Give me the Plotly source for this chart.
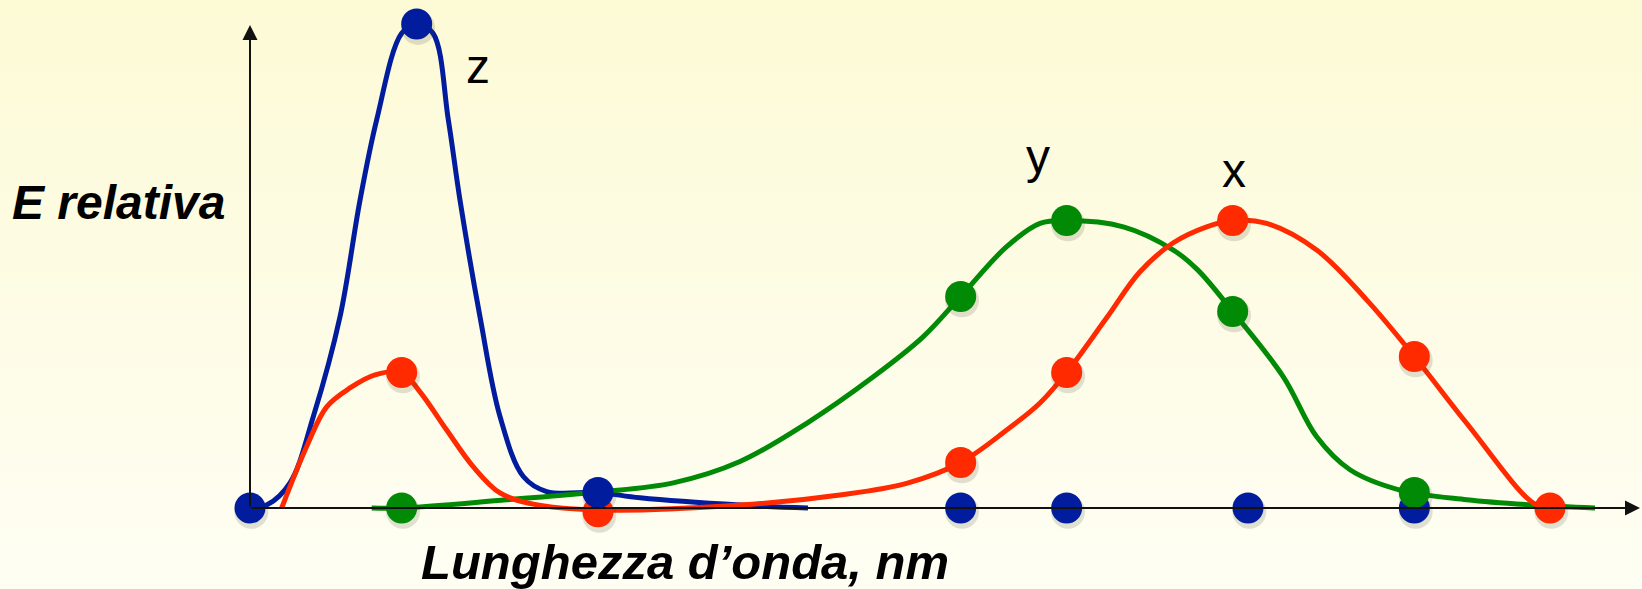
import plotly.graph_objects as go

# wavelength in nm, relative energy in %
z_nm = [380, 385, 392, 399, 407, 413, 418, 425.5, 430,
        434.9, 439.5, 443, 449, 455, 462, 469, 484.4, 497, 527, 547.4]
z_val = [0, 0.6, 5.2, 18.9, 39.5, 63.6, 80.2, 98.1, 100,
         98.1, 80.2, 63.6, 39.5, 18.9, 6.5, 3.4, 3.2, 2.1, 0.6, 0]

x_nm = [389.5, 397, 403, 410, 417.5, 425.5, 431, 439, 447, 455, 465, 484.4,
        527, 557, 577, 593.2, 607, 617, 625, 637, 647, 657, 667, 674.8,
        685, 700, 715, 729.3, 745, 765, 770]
x_val = [0, 12.7, 20.9, 24.8, 27.5, 28.0, 24.0, 16.1, 8.5, 3.1, 0.8, -0.4,
         0.6, 2.7, 5.1, 9.4, 16.1, 21.7, 28.0, 39.3, 48.8, 54.8, 58.1, 59.4,
         58.8, 53.3, 43.0, 31.3, 17.5, 1.0, 0]

y_nm = [416.5, 425.5, 457, 484.4, 507, 527, 547, 567, 582, 593.2, 607, 617,
        625, 642, 657, 664.3, 674.8, 690, 700, 710, 725, 745, 765, 783.5]
y_val = [0, 0, 1.7, 3.3, 5.2, 9.6, 17.5, 27.1, 35.4, 43.7, 54.0, 58.8,
         59.4, 58.1, 53.3, 49.2, 40.6, 27.1, 14.7, 7.9, 3.7, 1.7, 0.6, 0]

# sampled points (dots)
z_pts_nm = [380, 430, 484.4, 593.2, 625, 679.4, 729.3]
z_pts = [0, 100, 3.2, 0, 0, 0, 0]
x_pts_nm = [425.5, 484.4, 593.2, 625, 674.8, 729.3, 770]
x_pts = [28.0, -0.8, 9.4, 28.0, 59.4, 31.3, 0]
y_pts_nm = [425.5, 593.2, 625, 674.8, 729.3]
y_pts = [0, 43.7, 59.4, 40.6, 3.2]

BLUE = "#021c9e"
RED = "#ff2a00"
GREEN = "#008a05"

fig = go.Figure()

for nm, val, col in [(z_nm, z_val, BLUE), (y_nm, y_val, GREEN), (x_nm, x_val, RED)]:
    fig.add_trace(go.Scatter(x=nm, y=val, mode="lines",
                             line=dict(color=col, width=5, shape="spline", smoothing=1),
                             hoverinfo="skip", showlegend=False, cliponaxis=False))

# soft drop shadows under the dots
for nm, val in [(x_pts_nm, x_pts), (z_pts_nm, z_pts), (y_pts_nm, y_pts)]:
    fig.add_trace(go.Scatter(x=[v + 0.4 for v in nm], y=[v - 0.8 for v in val], mode="markers",
                             marker=dict(size=34, color="rgba(70,70,50,0.16)"),
                             hoverinfo="skip", showlegend=False, cliponaxis=False))

for nm, val, col in [(x_pts_nm, x_pts, RED), (z_pts_nm, z_pts, BLUE), (y_pts_nm, y_pts, GREEN)]:
    fig.add_trace(go.Scatter(x=nm, y=val, mode="markers",
                             marker=dict(size=31, color=col),
                             showlegend=False, cliponaxis=False))

# background gradient (light yellow at top fading to cream)
bands = 40
top = (253, 250, 214)
bot = (254, 254, 243)
shapes = []
for i in range(bands):
    t = i / (bands - 1)
    c = tuple(round(top[k] + (bot[k] - top[k]) * t) for k in range(3))
    shapes.append(dict(type="rect", xref="paper", yref="paper", layer="below",
                       x0=0, x1=1, y0=1 - (i + 1) / bands, y1=1 - i / bands + 0.001,
                       line=dict(width=0), fillcolor="rgb(%d,%d,%d)" % c))

lbl = dict(family="Liberation Sans, Arial, sans-serif", size=48, color="black")
annotations = [
    # axes with arrow heads
    dict(x=797, y=0, ax=380, ay=0, xref="x", yref="y", axref="x", ayref="y",
         text="", showarrow=True, arrowhead=2, arrowsize=1.5, arrowwidth=2, arrowcolor="#111"),
    dict(x=380, y=99.8, ax=380, ay=0, xref="x", yref="y", axref="x", ayref="y",
         text="", showarrow=True, arrowhead=2, arrowsize=1.5, arrowwidth=2, arrowcolor="#111"),
    dict(x=340.4, y=63.2, text="<b><i>E relativa</i></b>", showarrow=False, font=lbl),
    dict(x=510.5, y=-11.2, text="<b><i>Lunghezza d’onda, nm</i></b>", showarrow=False,
         font=dict(lbl, size=49)),
    dict(x=448.3, y=91.3, text="z", showarrow=False, font=lbl),
    dict(x=616.3, y=72.6, text="y", showarrow=False, font=lbl),
    dict(x=675.2, y=69.7, text="x", showarrow=False, font=lbl),
]

fig.update_layout(
    width=1642, height=589,
    margin=dict(l=0, r=0, t=0, b=0),
    paper_bgcolor="#fefef3", plot_bgcolor="rgba(0,0,0,0)",
    shapes=shapes, annotations=annotations,
    xaxis=dict(range=[305, 797.6], visible=False, fixedrange=True),
    yaxis=dict(range=[-16.74, 104.96], visible=False, fixedrange=True),
)

fig.write_html("out.html", config={"displayModeBar": False},
               post_script="document.body.style.margin='0';document.body.style.overflow='hidden';")
